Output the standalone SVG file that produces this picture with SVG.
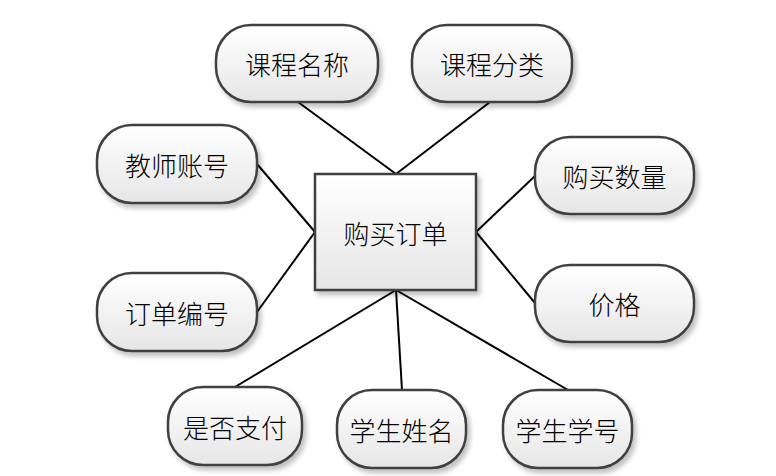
<svg xmlns="http://www.w3.org/2000/svg" width="776" height="476" viewBox="0 0 776 476">
<defs>
<linearGradient id="g" x1="0" y1="0" x2="0" y2="1">
<stop offset="0" stop-color="#ffffff"/>
<stop offset="1" stop-color="#e6e6e6"/>
</linearGradient>
<filter id="sh" x="-10%" y="-10%" width="130%" height="140%">
<feGaussianBlur in="SourceAlpha" stdDeviation="2.5"/>
<feOffset dx="3" dy="4" result="b"/>
<feComponentTransfer><feFuncA type="linear" slope="0.25"/></feComponentTransfer>
<feMerge><feMergeNode/><feMergeNode in="SourceGraphic"/></feMerge>
</filter>
</defs>
<style>
.n{fill:url(#g);stroke:#404040;stroke-width:2.5;filter:url(#sh)}
.t{font-family:"Noto Sans CJK SC","Noto Sans",sans-serif;font-weight:300;font-size:26px;fill:#000;text-anchor:middle;dominant-baseline:central}
.c{stroke:#000;stroke-width:2;fill:none}
</style>
<rect width="776" height="476" fill="#fff"/>
<g id="connectors">
<line class="c" x1="298" y1="102" x2="396" y2="174"/>
<line class="c" x1="490" y1="102" x2="396" y2="174"/>
<line class="c" x1="257" y1="164" x2="315" y2="232"/>
<line class="c" x1="257" y1="312" x2="315" y2="232"/>
<line class="c" x1="535" y1="176" x2="476" y2="232"/>
<line class="c" x1="535" y1="303" x2="476" y2="232"/>
<line class="c" x1="235" y1="387" x2="396" y2="290"/>
<line class="c" x1="402" y1="390" x2="396" y2="290"/>
<line class="c" x1="568" y1="390" x2="396" y2="290"/>
</g>
<g id="order">
<rect class="n" x="315" y="174" width="161" height="116"/>
<text class="t" x="395.5" y="232">购买订单</text>
</g>
<g id="course_name">
<rect class="n" x="216" y="25" width="162" height="77" rx="35"/>
<text class="t" x="297" y="63.5">课程名称</text>
</g>
<g id="course_type">
<rect class="n" x="412" y="25" width="160" height="77" rx="35"/>
<text class="t" x="492" y="63.5">课程分类</text>
</g>
<g id="teacher">
<rect class="n" x="97" y="125" width="160" height="78" rx="35"/>
<text class="t" x="177" y="164">教师账号</text>
</g>
<g id="order_no">
<rect class="n" x="97" y="273" width="160" height="78" rx="35"/>
<text class="t" x="177" y="312">订单编号</text>
</g>
<g id="quantity">
<rect class="n" x="535" y="137" width="159" height="77" rx="35"/>
<text class="t" x="614.5" y="175.5">购买数量</text>
</g>
<g id="price">
<rect class="n" x="535" y="265" width="159" height="77" rx="35"/>
<text class="t" x="614.5" y="303.5">价格</text>
</g>
<g id="paid">
<rect class="n" x="168" y="387" width="134" height="78" rx="35"/>
<text class="t" x="235" y="426">是否支付</text>
</g>
<g id="student_name">
<rect class="n" x="337" y="390" width="129" height="78" rx="35"/>
<text class="t" x="401.5" y="429">学生姓名</text>
</g>
<g id="student_no">
<rect class="n" x="503" y="390" width="129" height="78" rx="35"/>
<text class="t" x="567.5" y="429">学生学号</text>
</g>
</svg>
